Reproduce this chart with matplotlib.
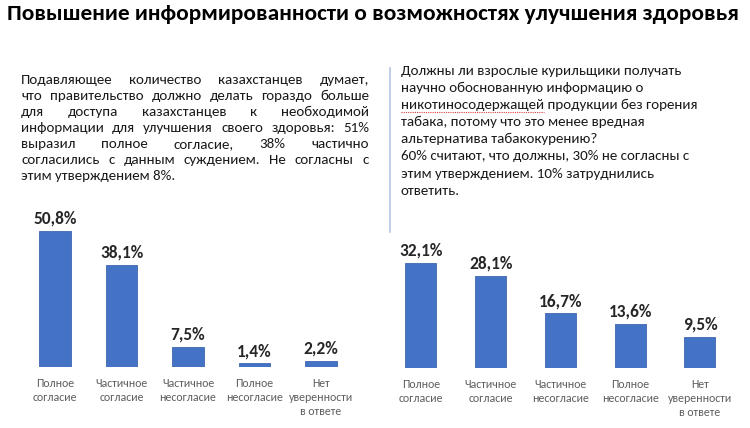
import matplotlib
matplotlib.use("Agg")
import matplotlib.pyplot as plt
from matplotlib.lines import Line2D
from matplotlib import font_manager

W, H = 750, 428
names = {f.name for f in font_manager.fontManager.ttflist}
FONT = "Carlito" if "Carlito" in names else "Open Sans"
plt.rcParams['font.family'] = [FONT, 'DejaVu Sans']

# данные
title = "Повышение информированности о возможностях улучшения здоровья"

left_lines = [
    "Подавляющее количество казахстанцев думает,",
    "что правительство должно делать гораздо больше",
    "для доступа казахстанцев к необходимой",
    "информации для улучшения своего здоровья: 51%",
    "выразил полное согласие, 38% частично",
    "согласились с данным суждением. Не согласны с",
    "этим утверждением 8%.",
]
right_lines = [
    "Должны ли взрослые курильщики получать",
    "научно обоснованную информацию о",
    "никотиносодержащей продукции без горения",
    "табака, потому что это менее вредная",
    "альтернатива табакокурению?",
    "60% считают, что должны, 30% не согласны с",
    "этим утверждением. 10% затруднились",
    "ответить.",
]

categories = ["Полное\nсогласие", "Частичное\nсогласие", "Частичное\nнесогласие",
              "Полное\nнесогласие", "Нет\nуверенности\nв ответе"]
left_values = [50.8, 38.1, 7.5, 1.4, 2.2]
right_values = [32.1, 28.1, 16.7, 13.6, 9.5]

BLUE = "#4472C4"
TXT = "#1a1a1a"
GRAY = "#5f5f5f"

fig = plt.figure(figsize=(W / 100, H / 100), dpi=100)
fig.patch.set_facecolor("white")
renderer = fig.canvas.get_renderer()


def px(x, y):
    # пиксели (сверху вниз) -> доли фигуры
    return x / W, 1 - y / H


def width_of(s, size, **kw):
    t = fig.text(0, 0, s, fontsize=size, **kw)
    w = t.get_window_extent(renderer).width
    t.remove()
    return w


# заголовок, подгоняем размер под ширину
tsize = 14 * 735 / width_of(title, 14, fontweight="bold")
fig.text(*px(7, 19.5), title, fontsize=tsize, fontweight="bold", color="black", va="baseline")

# размер основного текста
bsize = 10 * 299 / width_of(right_lines[2], 10)


def justify(words, x0, x1, y, size):
    texts = [fig.text(*px(0, y), w, fontsize=size, color=TXT, va="baseline") for w in words]
    widths = [t.get_window_extent(renderer).width for t in texts]
    gap = (x1 - x0 - sum(widths)) / (len(words) - 1)
    x = x0
    for t, w in zip(texts, widths):
        t.set_x(x / W)
        x += w + gap


for i, line in enumerate(left_lines):
    y = 84 + 16 * i
    if i < len(left_lines) - 1:
        justify(line.split(), 21, 369, y, bsize)
    else:
        fig.text(*px(21, y), line, fontsize=bsize, color=TXT, va="baseline")

for i, line in enumerate(right_lines):
    y = 75 + 17.1 * i
    fig.text(*px(401, y), line, fontsize=bsize, color=TXT, va="baseline")

# красное подчёркивание орфографии под первым словом третьей строки
uw = width_of(right_lines[2].split()[0], bsize)
uy = 75 + 17.1 * 2 + 3
fig.add_artist(Line2D([401 / W, (401 + uw) / W], [1 - uy / H, 1 - uy / H],
                      color="#e04040", lw=0.8, ls=(0, (1, 1)), transform=fig.transFigure))

# вертикальный разделитель
fig.add_artist(Line2D([390 / W, 390 / W], [1 - 68 / H, 1 - 232 / H],
                      color="#B4C6E0", lw=1.2, transform=fig.transFigure))


def bar_panel(left, width, base, top, ymax, values, bw):
    ax = fig.add_axes([left / W, 1 - base / H, width / W, (base - top) / H])
    x = range(len(values))
    bars = ax.bar(x, values, width=bw, color=BLUE, edgecolor="#3f67b1", linewidth=0.6)
    for b, v in zip(bars, values):
        ax.annotate(f"{v:.1f}%".replace(".", ","), (b.get_x() + b.get_width() / 2, v),
                    xytext=(0, 3), textcoords="offset points", ha="center", va="bottom",
                    fontsize=12.5, fontweight="bold", color="#262626")
    ax.set_xlim(-0.5, len(values) - 0.5)
    ax.set_ylim(0, ymax)
    ax.set_xticks(list(x))
    ax.set_xticklabels(categories, fontsize=8.6, color=GRAY, linespacing=1.3)
    ax.tick_params(axis="x", length=0, pad=8)
    ax.set_yticks([])
    for s in ax.spines.values():
        s.set_visible(False)
    ax.patch.set_alpha(0)
    return ax


# левая: центры 55..321 px, нуль на 367 px, 2.677 px на 1%
bar_panel(21.75, 332.5, 367, 367 - 55 * 2.677, 55, left_values, 0.48)
# правая: центры 421..700 px, нуль на 368 px, 3.27 px на 1%
bar_panel(386.1, 348.75, 368, 368 - 35 * 3.27, 35, right_values, 0.445)

fig.savefig("out.png", dpi=100)
